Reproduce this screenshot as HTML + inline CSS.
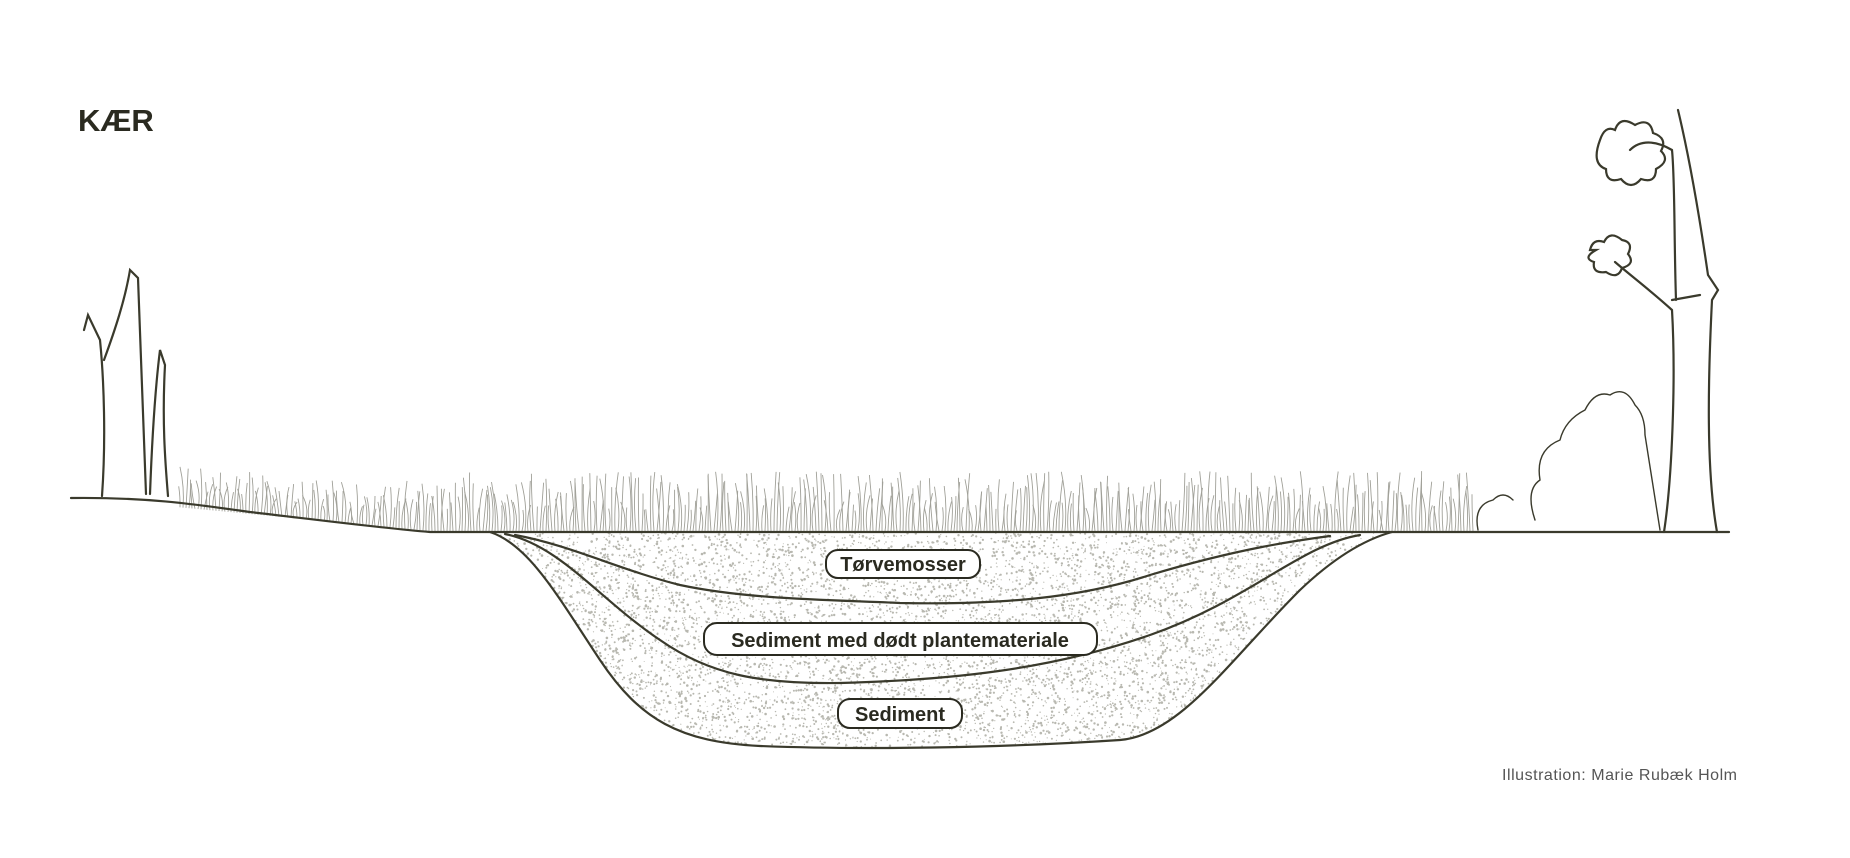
<!DOCTYPE html>
<html><head><meta charset="utf-8"><style>
html,body{margin:0;padding:0;background:#fff;width:1850px;height:858px;overflow:hidden}
svg{position:absolute;left:0;top:0}
.t{font-family:"Liberation Sans",sans-serif}
</style></head><body>
<svg id="s" width="1850" height="858" viewBox="0 0 1850 858" xmlns="http://www.w3.org/2000/svg">
<g id="grass" stroke="#a0a098" stroke-width="0.9" fill="none"></g>
<g id="dots" fill="#b8b8b0"></g>
<g fill="none" stroke="#3a3a2c" stroke-width="2.2" stroke-linecap="round">
<path d="M71,498 C150,497 200,505 250,512 C320,520 380,528 430,532 L1729,532"/>
<path id="outer" d="M490,532 C530,545 560,600 600,660 C640,720 680,742 760,746 C860,750 1000,748 1120,740 C1180,735 1230,660 1300,590 C1340,552 1370,538 1392,532"/>
<path d="M505,534 C560,545 600,600 660,640 C710,675 760,684 840,683 C950,680 1050,670 1150,635 C1250,600 1300,545 1360,535"/>
<path d="M515,535 C570,545 620,570 680,585 C750,600 840,600 900,603 C1000,605 1080,598 1150,575 C1240,548 1300,540 1330,536"/>
<path d="M102,496 C106,440 104,380 100,340 M100,340 L88,315 L84,330 M104,360 C115,330 125,300 130,270 L138,278 C140,320 142,400 146,494 M150,494 C152,440 155,390 160,350 L165,365 C162,420 165,460 168,496"/>
<path d="M1664,532 C1672,480 1676,380 1672,310 C1650,290 1630,275 1615,262 M1717,532 C1706,470 1708,380 1712,300 L1718,290 L1708,275 C1700,220 1690,160 1678,110 M1676,300 C1674,240 1675,180 1672,150 C1655,140 1640,140 1630,150 M1672,300 L1700,295"/>
<path d="M1600,140 q5,-15 15,-10 q5,-15 20,-5 q15,-8 18,8 q15,5 8,18 q10,10 -5,18 q0,15 -15,10 q-10,12 -20,0 q-15,5 -15,-10 q-15,-5 -6,-29z"/>
<path d="M1590,250 q3,-12 14,-8 q6,-12 18,-2 q12,2 6,14 q8,10 -6,14 q-4,12 -16,4 q-14,2 -12,-10 q-12,-4 2,-12z"/>
<path d="M1478,530 q-5,-25 15,-30 q10,-10 20,0 M1535,520 q-10,-30 5,-40 q-5,-30 20,-40 q5,-20 25,-30 q10,-20 25,-15 q15,-10 25,10 q10,10 10,30 L1660,530" stroke-width="1.4"/>
</g>
<g class="t" font-weight="bold" fill="#2a2a20">
<text x="78" y="131" font-size="31">KÆR</text>
</g>
<g fill="#fff" stroke="#2a2a20" stroke-width="2">
<rect x="826" y="550" width="154" height="28" rx="12"/>
<rect x="704" y="623" width="393" height="32" rx="13"/>
<rect x="838" y="699" width="124" height="29" rx="12"/>
</g>
<g class="t" font-weight="bold" fill="#2a2a20" font-size="20" text-anchor="middle">
<text x="903" y="571">Tørvemosser</text>
<text x="900" y="647">Sediment med dødt plantemateriale</text>
<text x="900" y="721">Sediment</text>
</g>
<text class="t" x="1502" y="780" font-size="16" fill="#555" textLength="235">Illustration: Marie Rubæk Holm</text>
</svg>
<script>
var ns="http://www.w3.org/2000/svg",g=document.getElementById('grass'),d=document.getElementById('dots'),o=document.getElementById('outer'),svg=document.getElementById('s');
var r=1;function rnd(){r=(r*9301+49297)%233280;return r/233280;}
function gy(x){if(x<430)return 498+(x-71)/(430-71)*34;return 532;}
for(var x=180;x<1475;x+=3){var y=gy(x)-1,h=20+rnd()*40;if(x<400)h*=0.7;var p=document.createElementNS(ns,'path');
p.setAttribute('d','M'+x.toFixed(1)+','+y+' q'+(rnd()*6-3).toFixed(1)+','+(-h/2).toFixed(1)+' '+(rnd()*8-4).toFixed(1)+','+(-h).toFixed(1));g.appendChild(p);}
var pt=svg.createSVGPoint();
function inside(x,y){pt.x=x;pt.y=y;try{return o.isPointInFill(pt);}catch(e){return false;}}
for(var i=0;i<9000;i++){var x=490+rnd()*900,y=533+rnd()*215;if(!inside(x,y))continue;var c=document.createElementNS(ns,'circle');c.setAttribute('cx',x.toFixed(1));c.setAttribute('cy',y.toFixed(1));c.setAttribute('r',(0.5+rnd()*0.8).toFixed(1));d.appendChild(c);}
</script>
</body></html>
